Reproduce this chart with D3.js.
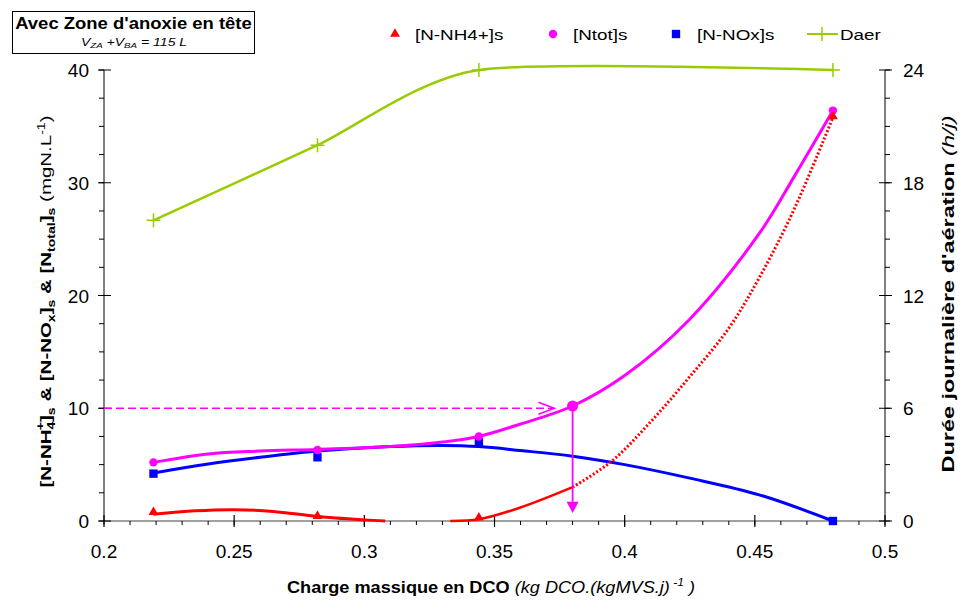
<!DOCTYPE html>
<html><head><meta charset="utf-8">
<script src="https://cdn.jsdelivr.net/npm/d3@7"></script>
<style>body{margin:0;background:#fff}text{font-family:Arial,"Liberation Sans",sans-serif}</style>
</head><body><svg id="c" width="961" height="602"></svg>
<script>
// ---- data ----
const xTicks=[0.2,0.25,0.3,0.35,0.4,0.45,0.5];
const xTickLabels=["0.2","0.25","0.3","0.35","0.4","0.45","0.5"];
const yLeftTicks=[0,10,20,30,40];
const yRightTicks=[0,6,12,18,24];
const seriesNames=["[N-NH4+]s","[Ntot]s","[N-NOx]s","Daer"];
const xObs=[0.219,0.282,0.344,0.48];
const nh4Obs=[0.7,0.35,0.2,35.8];
const noxObs=[4.2,5.65,7.0,0];
const daerObs=[16,20,24,24];
const ntotX=[0.219,0.282,0.344,0.38,0.48];
const ntotObs=[5.2,6.3,7.5,10.2,36.4];
// trend curves
const nh4TrendX1=[0.219,0.235,0.25,0.265,0.282,0.30,0.308];
const nh4Trend1=[0.6,0.9,1.0,0.85,0.4,0.1,0];
const nh4TrendX2=[0.333,0.344,0.36,0.38];
const nh4Trend2=[0,0.15,1.2,3.0];
const nh4TrendX3=[0.38,0.395,0.41,0.425,0.44,0.452,0.465,0.48];
const nh4Trend3=[3.0,5.3,8.8,12.8,17.1,21.7,27.6,35.8];
const noxTrendX=[0.219,0.24,0.26,0.282,0.31,0.33,0.344,0.36,0.38,0.4,0.425,0.452,0.48];
const noxTrend=[4.25,5.05,5.65,6.2,6.6,6.7,6.6,6.25,5.75,5.0,3.8,2.3,0];
const ntotTrendX=[0.219,0.24,0.26,0.282,0.31,0.33,0.344,0.36,0.38,0.4,0.425,0.452,0.465,0.48];
const ntotTrend=[5.2,5.95,6.2,6.35,6.6,7.0,7.5,8.6,10.2,12.9,17.9,25.6,30.5,36.4];
const refLevel=10, refX=0.38, refArrowEnd=0.373;
const colors={nh4:"#FF0000",ntot:"#FF00FF",nox:"#0000FF",daer:"#99CC00"};

// ---- layout ----
const svg=d3.select("#c");
const X0=104,X1=885,Y0=521,Y1=70;
const x=d3.scaleLinear().domain([0.2,0.5]).range([X0,X1]);
const yL=d3.scaleLinear().domain([0,40]).range([Y0,Y1]);
const yR=d3.scaleLinear().domain([0,24]).range([Y0,Y1]);
const TF=19;

// axes
const gx=svg.append("g").attr("transform",`translate(0,${Y0})`);
gx.append("line").attr("x1",X0).attr("x2",X1).attr("stroke","#808080").attr("stroke-width",1.5);
gx.selectAll(".mn").data(d3.range(0.2,0.5001,0.01)).join("line")
  .attr("x1",d=>x(d)).attr("x2",d=>x(d)).attr("y1",0).attr("y2",4).attr("stroke","#000");
gx.selectAll(".mj").data(xTicks).join("line")
  .attr("x1",d=>x(d)).attr("x2",d=>x(d)).attr("y1",-6).attr("y2",6).attr("stroke","#000").attr("stroke-width",1.2);
gx.selectAll(".lb").data(xTicks).join("text").attr("x",d=>x(d)).attr("y",37)
  .attr("text-anchor","middle").attr("font-size",TF).text((d,i)=>xTickLabels[i]);

const gl=svg.append("g");
gl.append("line").attr("x1",X0).attr("x2",X0).attr("y1",Y0).attr("y2",Y1).attr("stroke","#000");
gl.selectAll(".mn").data(d3.range(0,40.01,2.5)).join("line")
  .attr("x1",X0-5).attr("x2",X0).attr("y1",d=>yL(d)).attr("y2",d=>yL(d)).attr("stroke","#000");
gl.selectAll(".mj").data(yLeftTicks).join("line")
  .attr("x1",X0-6).attr("x2",X0+7).attr("y1",d=>yL(d)).attr("y2",d=>yL(d)).attr("stroke","#000");
gl.selectAll(".lb").data(yLeftTicks).join("text").attr("x",X0-15).attr("y",d=>yL(d)+7)
  .attr("text-anchor","end").attr("font-size",TF).text(d=>d);

const gr=svg.append("g");
gr.append("line").attr("x1",X1).attr("x2",X1).attr("y1",Y0).attr("y2",Y1).attr("stroke","#000");
gr.selectAll(".mn").data(d3.range(0,24.01,1.5)).join("line")
  .attr("x1",X1).attr("x2",X1+5).attr("y1",d=>yR(d)).attr("y2",d=>yR(d)).attr("stroke","#000");
gr.selectAll(".mj").data(yRightTicks).join("line")
  .attr("x1",X1-6).attr("x2",X1+7).attr("y1",d=>yR(d)).attr("y2",d=>yR(d)).attr("stroke","#000");
gr.selectAll(".lb").data(yRightTicks).join("text").attr("x",X1+18).attr("y",d=>yR(d)+7)
  .attr("text-anchor","start").attr("font-size",TF).text(d=>d);

// lines
const zip=(a,b)=>a.map((v,i)=>[v,b[i]]);
const lineL=d3.line().x(d=>x(d[0])).y(d=>yL(d[1])).curve(d3.curveCatmullRom);
svg.append("path").attr("d",lineL(zip(noxTrendX,noxTrend))).attr("fill","none").attr("stroke",colors.nox).attr("stroke-width",3);
svg.append("path").attr("d",lineL(zip(ntotTrendX,ntotTrend))).attr("fill","none").attr("stroke",colors.ntot).attr("stroke-width",3);
svg.append("path").attr("d",lineL(zip(nh4TrendX1,nh4Trend1))).attr("fill","none").attr("stroke",colors.nh4).attr("stroke-width",3);
svg.append("path").attr("d",lineL(zip(nh4TrendX2,nh4Trend2))).attr("fill","none").attr("stroke",colors.nh4).attr("stroke-width",2.5);
svg.append("path").attr("d",lineL(zip(nh4TrendX3,nh4Trend3))).attr("fill","none").attr("stroke",colors.nh4).attr("stroke-width",3).attr("stroke-dasharray","2,2");
const lineR=d3.line().x(d=>x(d[0])).y(d=>yR(d[1])).curve(d3.curveCardinal.tension(0.3));
svg.append("path").attr("d",lineR(zip(xObs,daerObs))).attr("fill","none").attr("stroke",colors.daer).attr("stroke-width",2.5);

// reference arrows
const ntRef=ntotObs[ntotX.indexOf(refX)];
svg.append("line").attr("x1",x(0.2)).attr("x2",x(refArrowEnd)).attr("y1",yL(refLevel)).attr("y2",yL(refLevel))
  .attr("stroke",colors.ntot).attr("stroke-width",1.5).attr("stroke-dasharray","8,4");
svg.append("path").attr("d",`M${x(refArrowEnd)-16},${yL(refLevel)-6}L${x(refArrowEnd)},${yL(refLevel)}L${x(refArrowEnd)-16},${yL(refLevel)+6}`)
  .attr("fill","none").attr("stroke",colors.ntot).attr("stroke-width",1.5);
svg.append("line").attr("x1",x(refX)).attr("x2",x(refX)).attr("y1",yL(ntRef)).attr("y2",yL(1.5))
  .attr("stroke",colors.ntot).attr("stroke-width",1.8);
svg.append("path").attr("d",`M${x(refX)-6},${yL(1.7)}L${x(refX)+6},${yL(1.7)}L${x(refX)},${yL(0.7)}Z`).attr("fill",colors.ntot);

// markers
const tri=d3.symbol().type(d3.symbolTriangle).size(42);
const sq=d3.symbol().type(d3.symbolSquare).size(70);
svg.selectAll(".nox").data(zip(xObs,noxObs)).join("path").attr("d",sq)
  .attr("transform",d=>`translate(${x(d[0])},${yL(d[1])})`).attr("fill",colors.nox);
svg.selectAll(".nt").data(zip(ntotX,ntotObs)).join("circle")
  .attr("cx",d=>x(d[0])).attr("cy",d=>yL(d[1])).attr("r",d=>d[0]===refX?5.5:4.2).attr("fill",colors.ntot);
svg.selectAll(".nh").data(zip(xObs,nh4Obs)).join("path").attr("d",tri)
  .attr("transform",d=>`translate(${x(d[0])},${yL(d[1])-1})`).attr("fill",colors.nh4);
svg.selectAll(".da").data(zip(xObs,daerObs)).join("path")
  .attr("d",d=>`M${x(d[0])-7},${yR(d[1])}h14M${x(d[0])},${yR(d[1])-7}v14`)
  .attr("stroke",colors.daer).attr("stroke-width",1.5);

// legend
const lg=svg.append("g");
lg.append("path").attr("d",tri).attr("transform","translate(395,34)").attr("fill",colors.nh4);
lg.append("circle").attr("cx",553).attr("cy",34).attr("r",4.2).attr("fill",colors.ntot);
lg.append("path").attr("d",sq).attr("transform","translate(676,34)").attr("fill",colors.nox);
lg.append("line").attr("x1",807).attr("x2",838).attr("y1",34).attr("y2",34).attr("stroke",colors.daer).attr("stroke-width",2);
lg.append("path").attr("d","M822,27v14").attr("stroke",colors.daer).attr("stroke-width",1.5);
[[415,0],[573,1],[697,2],[840,3]].forEach(([lx,i])=>
  lg.append("text").attr("transform",`translate(${lx},40) scale(1.3,1)`).attr("font-size",14.5).text(seriesNames[i]));

// title box
svg.append("rect").attr("x",12.5).attr("y",11.5).attr("width",242).attr("height",42).attr("fill","#fff").attr("stroke","#000");
svg.append("text").attr("transform","translate(133.5,29) scale(1.12,1)").attr("text-anchor","middle").attr("font-size",16.5).attr("font-weight","bold").text("Avec Zone d'anoxie en tête");
const st=svg.append("text").attr("transform","translate(134,46) scale(1.22,1)").attr("text-anchor","middle").attr("font-size",11.5).attr("font-style","italic");
st.append("tspan").text("V");
st.append("tspan").attr("font-size",8).attr("dy",2).text("ZA");
st.append("tspan").attr("dy",-2).text(" +V");
st.append("tspan").attr("font-size",8).attr("dy",2).text("BA");
st.append("tspan").attr("dy",-2).text(" = 115 L");

// left axis title
const lt=svg.append("text").attr("transform","translate(51,301.5) rotate(-90) scale(1.41,1)").attr("text-anchor","middle")
  .attr("font-size",14.5).attr("font-weight","bold");
lt.append("tspan").text("[N-NH");
lt.append("tspan").attr("font-size",10).attr("dy",4).text("4");
lt.append("tspan").attr("font-size",10).attr("dx",-6).attr("dy",-11).text("+");
lt.append("tspan").attr("dy",7).text("]");
lt.append("tspan").attr("font-size",10).attr("dy",4).text("s");
lt.append("tspan").attr("dy",-4).text(" & [N-NO");
lt.append("tspan").attr("font-size",10).attr("dy",4).text("x");
lt.append("tspan").attr("dy",-4).text("]");
lt.append("tspan").attr("font-size",10).attr("dy",4).text("s");
lt.append("tspan").attr("dy",-4).text(" & [N");
lt.append("tspan").attr("font-size",10).attr("dy",4).text("total");
lt.append("tspan").attr("dy",-4).text("]");
lt.append("tspan").attr("font-size",10).attr("dy",4).text("s");
lt.append("tspan").attr("dy",-4).attr("font-weight","normal").text(" (mgN.L");
lt.append("tspan").attr("font-size",10).attr("font-weight","normal").attr("dy",-6).text("-1");
lt.append("tspan").attr("dy",6).attr("font-weight","normal").text(")");

// right axis title
const rt=svg.append("text").attr("transform","translate(954,294) rotate(-90) scale(1.42,1)").attr("text-anchor","middle").attr("font-size",16.5);
rt.append("tspan").attr("font-weight","bold").text("Durée journalière d'aération");
rt.append("tspan").attr("font-style","italic").text(" (h/j)");

// x axis title
const xt=svg.append("text").attr("transform","translate(491,593) scale(1.1,1)").attr("text-anchor","middle").attr("font-size",16.5);
xt.append("tspan").attr("font-weight","bold").text("Charge massique en DCO");
xt.append("tspan").attr("font-style","italic").text(" (kg DCO.(kgMVS.j)");
xt.append("tspan").attr("font-style","italic").attr("font-size",11).attr("dy",-7).text(" -1");
xt.append("tspan").attr("font-style","italic").attr("dy",7).text(" )");
</script></body></html>
